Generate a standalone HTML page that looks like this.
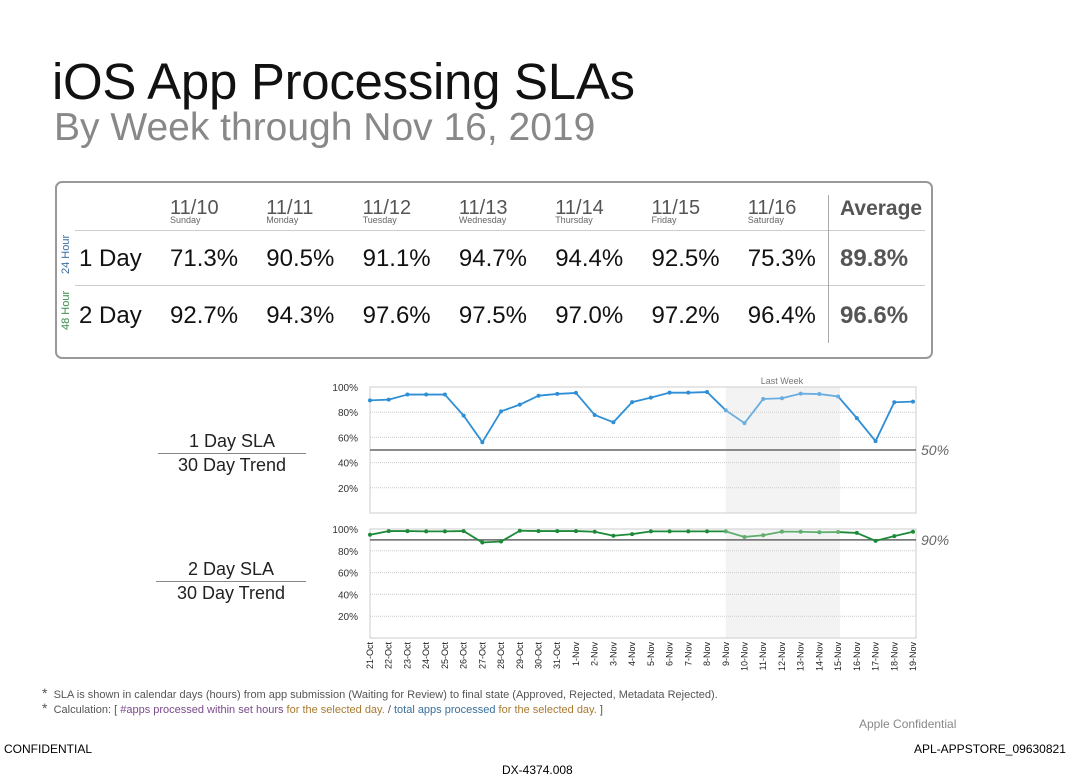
<!DOCTYPE html>
<html><head><meta charset="utf-8"><style>
body{margin:0;width:1080px;height:779px;background:#fff;position:relative;overflow:hidden;font-family:"Liberation Sans",sans-serif}
.a{position:absolute;white-space:nowrap}
.hd{font-size:20px;color:#555;line-height:20px}
.dn{font-size:9px;color:#666;line-height:9px}
.v{font-size:24px;color:#111}
.avg{font-size:24px;font-weight:bold;color:#555}
</style></head><body>
<div class="a" style="left:52px;top:52px;font-size:51px;color:#111;letter-spacing:-0.3px">iOS App Processing SLAs</div>
<div class="a" style="left:54px;top:106px;font-size:39px;color:#888">By Week through Nov 16, 2019</div>
<div class="a" style="left:55px;top:181px;width:874px;height:174px;border:2px solid #999;border-radius:7px"></div>
<div class="a" style="left:75px;top:230px;width:850px;height:1px;background:#ccc"></div>
<div class="a" style="left:75px;top:285px;width:850px;height:1px;background:#ccc"></div>
<div class="a" style="left:828px;top:195px;width:1px;height:148px;background:#aaa"></div>
<div id="tbl"></div>
<div class="a" style="left:60px;top:274px;font-size:11px;color:#3a6fa0;transform:rotate(-90deg);transform-origin:left top">24 Hour</div>
<div class="a" style="left:60px;top:330px;font-size:11px;color:#3a8a4a;transform:rotate(-90deg);transform-origin:left top">48 Hour</div>
<div class="a v" style="left:79px;top:245px">1 Day</div>
<div class="a v" style="left:79px;top:302px">2 Day</div>
<div class="a avg" style="left:840px;top:197px;font-size:21px">Average</div>
<div class="a avg" style="left:840px;top:245px">89.8%</div>
<div class="a avg" style="left:840px;top:302px">96.6%</div>

<div class="a" style="left:158px;top:430px;width:148px;text-align:center;font-size:18px;color:#222;line-height:22px">1 Day SLA<div style="border-top:1px solid #888;margin-top:1px">30 Day Trend</div></div>
<div class="a" style="left:156px;top:558px;width:150px;text-align:center;font-size:18px;color:#222;line-height:22px">2 Day SLA<div style="border-top:1px solid #888;margin-top:1px">30 Day Trend</div></div>

<svg id="ch" class="a" style="left:0;top:0" width="1080" height="779"></svg>

<div class="a" style="left:42px;top:685px;font-size:11px;color:#555"><span style="font-size:14px">*</span>&nbsp; SLA is shown in calendar days (hours) from app submission (Waiting for Review) to final state (Approved, Rejected, Metadata Rejected).</div>
<div class="a" style="left:42px;top:700px;font-size:11px;color:#555"><span style="font-size:14px">*</span>&nbsp; Calculation: [ <span style="color:#7a4a8a">#apps processed within set hours</span> <span style="color:#a87a30">for the selected day.</span> / <span style="color:#3a6f9a">total apps processed</span> <span style="color:#a87a30">for the selected day.</span> ]</div>
<div class="a" style="left:859px;top:717px;font-size:12px;color:#888">Apple Confidential</div>
<div class="a" style="left:4px;top:742px;font-size:12px;color:#000">CONFIDENTIAL</div>
<div class="a" style="left:914px;top:742px;font-size:12px;color:#000">APL-APPSTORE_09630821</div>
<div class="a" style="left:502px;top:763px;font-size:12px;color:#000">DX-4374.008</div>

<script>
const dates=["11/10","11/11","11/12","11/13","11/14","11/15","11/16"];
const days=["Sunday","Monday","Tuesday","Wednesday","Thursday","Friday","Saturday"];
const oneDay=["71.3%","90.5%","91.1%","94.7%","94.4%","92.5%","75.3%"];
const twoDay=["92.7%","94.3%","97.6%","97.5%","97.0%","97.2%","96.4%"];
const cats=["21-Oct","22-Oct","23-Oct","24-Oct","25-Oct","26-Oct","27-Oct","28-Oct","29-Oct","30-Oct","31-Oct","1-Nov","2-Nov","3-Nov","4-Nov","5-Nov","6-Nov","7-Nov","8-Nov","9-Nov","10-Nov","11-Nov","12-Nov","13-Nov","14-Nov","15-Nov","16-Nov","17-Nov","18-Nov","19-Nov"];
const sla1=[89.4,90,94,94,94,77.3,56.2,80.7,86,93.1,94.5,95.3,77.8,72,88,91.6,95.5,95.5,96,81.5,71.3,90.5,91.1,94.7,94.4,92.5,75.3,57,87.9,88.4];
const sla2=[94.7,98.1,98.1,97.8,97.8,98.1,87.6,88.5,98.4,98.1,98.1,98.1,97.5,93.8,95.3,97.8,97.8,97.8,97.8,97.8,92.7,94.3,97.6,97.5,97.0,97.2,96.4,89.1,93.5,97.5];
const ticks=[20,40,60,80,100];
const target1=50, target2=90;
const shadeStart=19, shadeEnd=25;

const tbl=document.getElementById('tbl');
dates.forEach((d,i)=>{
  const x=170+i*96.3;
  let e=document.createElement('div');e.className='a hd';e.style.left=x+'px';e.style.top='198px';e.textContent=d;
  
  
  tbl.appendChild(e);
  e=document.createElement('div');e.className='a dn';e.style.left=x+'px';e.style.top='216px';e.textContent=days[i];
  
  
  tbl.appendChild(e);
  e=document.createElement('div');e.className='a v';e.style.left=x+'px';e.style.top='245px';e.textContent=oneDay[i];
  
  
  tbl.appendChild(e);
  e=document.createElement('div');e.className='a v';e.style.left=x+'px';e.style.top='302px';e.textContent=twoDay[i];
  
  
  tbl.appendChild(e);
});

const svg=document.getElementById('ch');const NS='http://www.w3.org/2000/svg';
function mk(t,at,name){const e=document.createElementNS(NS,t);for(const k in at)e.setAttribute(k,at[k]);
  
  
  svg.appendChild(e);return e;}
const X0=370,X1=913;
const xs=i=>X0+i*(X1-X0)/(cats.length-1);
function chart(data,top,bottom,target,color,lite,tlabel,name,lastWeek){
  const y=v=>bottom-(bottom-top)*v/100;
  mk('rect',{x:xs(shadeStart),y:top,width:xs(shadeEnd)-xs(shadeStart)+2,height:bottom-top,fill:'#f3f3f3'},name+'-last-week-shade');
  if(lastWeek){const t=mk('text',{x:(xs(shadeStart)+xs(shadeEnd))/2,y:top-3,'font-size':9,fill:'#777','text-anchor':'middle','font-family':'Liberation Sans'},name+'-last-week-label');t.textContent='Last Week';}
  mk('rect',{x:X0,y:top,width:X1-X0+3,height:bottom-top,fill:'none',stroke:'#ccc'},name+'-plot-border');
  ticks.forEach(t=>{mk('line',{x1:X0,x2:X1+3,y1:y(t),y2:y(t),stroke:'#ccc','stroke-dasharray':'1,1'},name+'-gridline');
    const l=mk('text',{x:X0-12,y:y(t)+4,'font-size':10,fill:'#333','text-anchor':'end','font-family':'Liberation Sans'},name+'-y-tick');l.textContent=t+'%';});
  mk('line',{x1:X0,x2:X1+3,y1:y(target),y2:y(target),stroke:'#666','stroke-width':1.5},name+'-target-line');
  const tl=mk('text',{x:X1+8,y:y(target)+5,'font-size':14,fill:'#666','font-style':'italic','font-family':'Liberation Sans'},name+'-target-label');tl.textContent=tlabel;
  for(let i=0;i<data.length-1;i++){const lw=i>=shadeStart&&i<shadeEnd;
    mk('line',{x1:xs(i),y1:y(data[i]),x2:xs(i+1),y2:y(data[i+1]),stroke:lw?lite:color,'stroke-width':1.8},name+'-line-segment');}
  data.forEach((v,i)=>{const lw=i>=shadeStart&&i<=shadeEnd;mk('circle',{cx:xs(i),cy:y(v),r:2,fill:lw?lite:color},name+'-point');});
}
chart(sla1,387,513,target1,'#2f8fd6','#6aaee0','50%','sla1',true);
chart(sla2,529,638,target2,'#1d8a3a','#5fae6e','90%','sla2',false);
cats.forEach((c,i)=>{const t=mk('text',{x:0,y:0,'font-size':9,fill:'#222','text-anchor':'end','font-family':'Liberation Sans',transform:`translate(${xs(i)+3},642) rotate(-90)`},'x-tick-label');t.textContent=c;});
</script>
</body></html>
